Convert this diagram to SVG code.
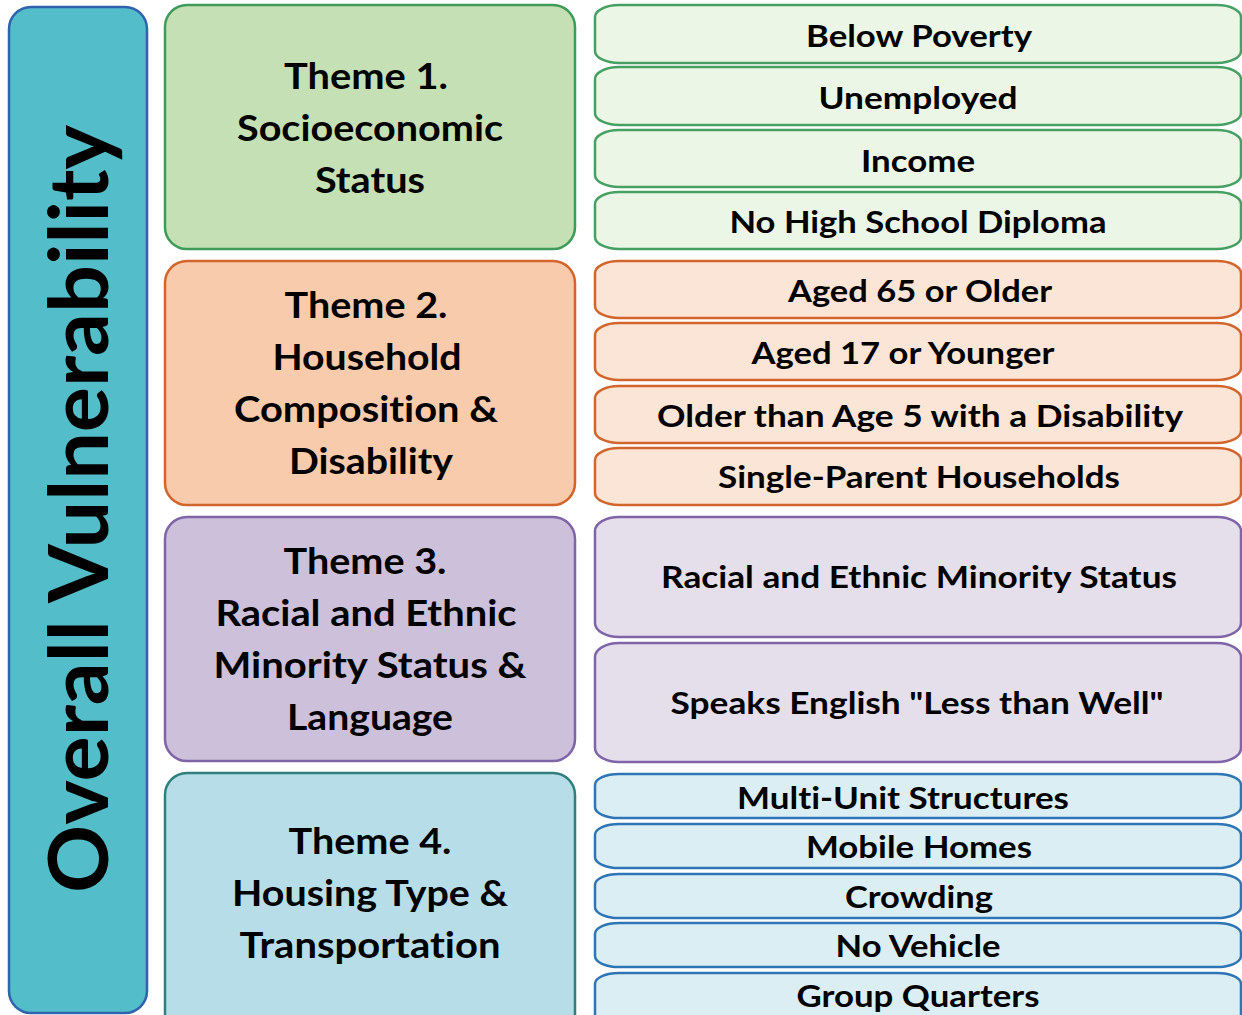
<svg xmlns="http://www.w3.org/2000/svg" width="1242" height="1015" viewBox="0 0 1242 1015">
<style>
text{font-family:Lato,"Open Sans","Liberation Sans",sans-serif;font-weight:700;fill:#000;text-anchor:middle;font-variant-ligatures:none}
.th{font-size:36px}
.it{font-size:31px}
.big{font-size:82px}
rect{stroke-width:2.5}
.g1{fill:#C5E0B4;stroke:#3E9B58}
.g2{fill:#EBF6E6;stroke:#46A062}
.o1{fill:#F8CBAD;stroke:#D2652C}
.o2{fill:#FBE5D6;stroke:#D2652C}
.p1{fill:#CCC0DA;stroke:#8064A8}
.p2{fill:#E5DFEC;stroke:#8064A8}
.b1{fill:#B7DEE8;stroke:#2E7F7E}
.b2{fill:#DAEEF3;stroke:#2E75B6}
</style>
<rect width="1242" height="1015" fill="#fff" stroke="none"/>
<g id="overall">
<rect x="9" y="7" width="138" height="1006" rx="22" fill="#53BDC9" stroke="#2F63AE"/>
<text class="big" transform="translate(108,509) rotate(-90)" textLength="768" lengthAdjust="spacingAndGlyphs">Overall Vulnerability</text>
</g>
<g id="theme1">
<rect class="g1" x="165" y="5" width="410" height="244" rx="22"/>
<text class="th" x="366" y="89" textLength="164" lengthAdjust="spacingAndGlyphs">Theme 1.</text>
<text class="th" x="370" y="141" textLength="266" lengthAdjust="spacingAndGlyphs">Socioeconomic</text>
<text class="th" x="370" y="193" textLength="110" lengthAdjust="spacingAndGlyphs">Status</text>
</g>
<g id="theme2">
<rect class="o1" x="165" y="261" width="410" height="244" rx="22"/>
<text class="th" x="366" y="318" textLength="163" lengthAdjust="spacingAndGlyphs">Theme 2.</text>
<text class="th" x="367" y="370" textLength="189" lengthAdjust="spacingAndGlyphs">Household</text>
<text class="th" x="366" y="422" textLength="264" lengthAdjust="spacingAndGlyphs">Composition &amp;</text>
<text class="th" x="371" y="474" textLength="164" lengthAdjust="spacingAndGlyphs">Disability</text>
</g>
<g id="theme3">
<rect class="p1" x="165" y="517" width="410" height="244" rx="22"/>
<text class="th" x="365" y="574" textLength="163" lengthAdjust="spacingAndGlyphs">Theme 3.</text>
<text class="th" x="366" y="626" textLength="301" lengthAdjust="spacingAndGlyphs">Racial and Ethnic</text>
<text class="th" x="370" y="678" textLength="313" lengthAdjust="spacingAndGlyphs">Minority Status &amp;</text>
<text class="th" x="370" y="730" textLength="166" lengthAdjust="spacingAndGlyphs">Language</text>
</g>
<g id="theme4">
<rect class="b1" x="165" y="773" width="410" height="262" rx="22"/>
<text class="th" x="370" y="854" textLength="163" lengthAdjust="spacingAndGlyphs">Theme 4.</text>
<text class="th" x="370" y="906" textLength="276" lengthAdjust="spacingAndGlyphs">Housing Type &amp;</text>
<text class="th" x="370" y="958" textLength="261" lengthAdjust="spacingAndGlyphs">Transportation</text>
</g>
<g id="below-poverty"><rect class="g2" x="595" y="5" width="646" height="58" rx="24" ry="12"/><text class="it" x="919" y="47" textLength="226" lengthAdjust="spacingAndGlyphs">Below Poverty</text></g>
<g id="unemployed"><rect class="g2" x="595" y="67" width="646" height="58" rx="24" ry="12"/><text class="it" x="918" y="109" textLength="199" lengthAdjust="spacingAndGlyphs">Unemployed</text></g>
<g id="income"><rect class="g2" x="595" y="130" width="646" height="57" rx="24" ry="12"/><text class="it" x="918" y="172" textLength="114" lengthAdjust="spacingAndGlyphs">Income</text></g>
<g id="no-hs"><rect class="g2" x="595" y="192" width="646" height="57" rx="24" ry="12"/><text class="it" x="918" y="233" textLength="377" lengthAdjust="spacingAndGlyphs">No High School Diploma</text></g>
<g id="aged65"><rect class="o2" x="595" y="261" width="646" height="57" rx="24" ry="12"/><text class="it" x="920" y="302" textLength="264" lengthAdjust="spacingAndGlyphs">Aged 65 or Older</text></g>
<g id="aged17"><rect class="o2" x="595" y="323" width="646" height="57" rx="24" ry="12"/><text class="it" x="903" y="364" textLength="303" lengthAdjust="spacingAndGlyphs">Aged 17 or Younger</text></g>
<g id="disability"><rect class="o2" x="595" y="386" width="646" height="57" rx="24" ry="12"/><text class="it" x="920" y="427" textLength="526" lengthAdjust="spacingAndGlyphs">Older than Age 5 with a Disability</text></g>
<g id="single-parent"><rect class="o2" x="595" y="448" width="646" height="57" rx="24" ry="12"/><text class="it" x="919" y="488" textLength="402" lengthAdjust="spacingAndGlyphs">Single-Parent Households</text></g>
<g id="minority"><rect class="p2" x="595" y="517" width="646" height="120" rx="24" ry="14"/><text class="it" x="919" y="588" textLength="516" lengthAdjust="spacingAndGlyphs">Racial and Ethnic Minority Status</text></g>
<g id="english"><rect class="p2" x="595" y="643" width="646" height="119" rx="24" ry="14"/><text class="it" x="917" y="714" textLength="493" lengthAdjust="spacingAndGlyphs">Speaks English "Less than Well"</text></g>
<g id="multi-unit"><rect class="b2" x="595" y="774" width="646" height="44" rx="24" ry="11"/><text class="it" x="903" y="809" textLength="332" lengthAdjust="spacingAndGlyphs">Multi-Unit Structures</text></g>
<g id="mobile"><rect class="b2" x="595" y="824" width="646" height="44" rx="24" ry="11"/><text class="it" x="919" y="858" textLength="226" lengthAdjust="spacingAndGlyphs">Mobile Homes</text></g>
<g id="crowding"><rect class="b2" x="595" y="874" width="646" height="44" rx="24" ry="11"/><text class="it" x="919" y="908" textLength="148" lengthAdjust="spacingAndGlyphs">Crowding</text></g>
<g id="no-vehicle"><rect class="b2" x="595" y="923" width="646" height="44" rx="24" ry="11"/><text class="it" x="918" y="957" textLength="165" lengthAdjust="spacingAndGlyphs">No Vehicle</text></g>
<g id="group-quarters"><rect class="b2" x="595" y="973" width="646" height="60" rx="24" ry="11"/><text class="it" x="918" y="1007" textLength="243" lengthAdjust="spacingAndGlyphs">Group Quarters</text></g>
<g id="connectors"/>
</svg>
